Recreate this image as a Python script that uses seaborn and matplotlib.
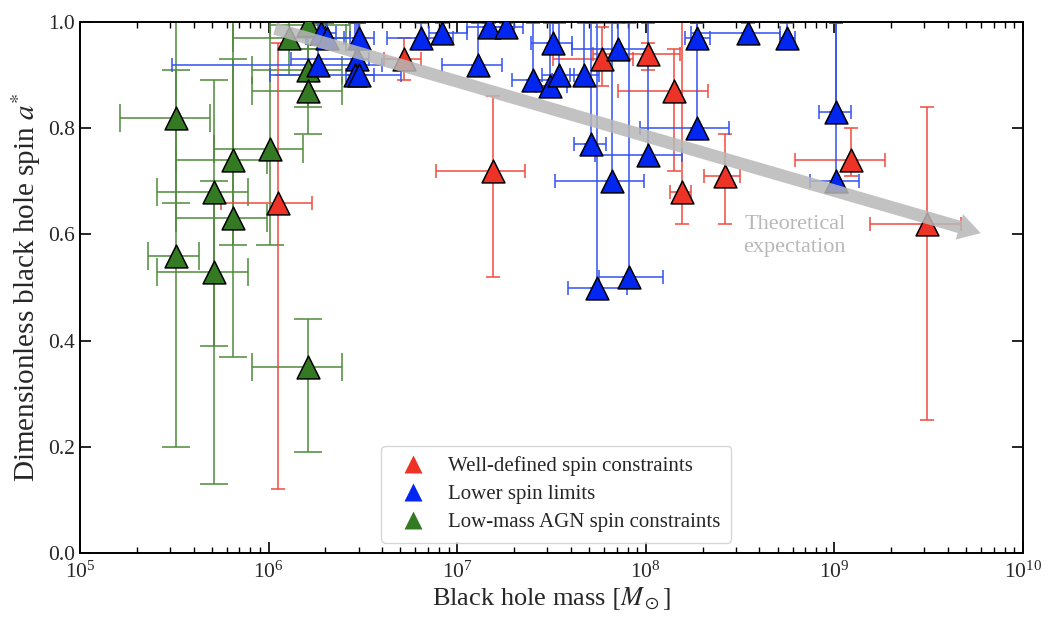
import numpy as np
import pandas as pd
import seaborn as sns
import matplotlib
matplotlib.use('Agg')
import matplotlib.pyplot as plt
from matplotlib.lines import Line2D

# ---- data (log10 mass, mass range, spin, spin range) ----
# well-defined spin constraints
red_logm = [6.05, 6.72, 7.19, 7.77, 8.01, 8.15, 8.19, 8.42, 9.09, 9.49]
red_logm_lo = [5.75, 6.61, 6.89, 7.51, 7.72, 7.85, 8.13, 8.31, 8.79, 9.19]
red_logm_hi = [6.23, 6.81, 7.36, 7.93, 8.18, 8.33, 8.24, 8.50, 9.27, 9.67]
red_spin = [0.66, 0.93, 0.72, 0.93, 0.94, 0.87, 0.68, 0.71, 0.74, 0.62]
red_spin_lo = [0.12, 0.89, 0.52, 0.88, 0.91, 0.72, 0.62, 0.62, 0.71, 0.25]
red_spin_hi = [0.96, 0.97, 0.86, 0.99, 0.96, 0.95, 1.00, 0.79, 0.80, 0.84]

# lower spin limits
blue_logm = [6.26, 6.28, 6.31, 6.48, 6.47, 6.46, 6.48, 6.81, 6.92, 7.11,
             7.17, 7.26, 7.51, 7.40, 7.49, 7.54, 7.67, 7.85, 8.27, 8.54,
             8.75, 9.01, 9.01, 8.27, 8.01, 7.71, 7.82, 7.74, 7.91]
blue_logm_lo = [5.49, 6.20, 6.20, 6.40, 6.12, 6.01, 6.41, 6.63, 6.85, 6.92,
                7.05, 7.17, 7.39, 7.29, 7.42, 7.45, 7.60, 7.61, 8.21, 8.24,
                8.71, 8.92, 8.87, 7.97, 7.73, 7.62, 7.52, 7.59, 7.75]
blue_logm_hi = [6.60, 6.36, 6.43, 6.56, 6.53, 6.56, 6.70, 6.98, 7.05, 7.24,
                7.30, 7.35, 7.61, 7.50, 7.58, 7.62, 7.75, 8.01, 8.34, 8.71,
                8.79, 9.09, 9.13, 8.44, 8.19, 7.79, 7.99, 7.90, 8.09]
blue_spin = [0.92, 0.98, 0.97, 0.97, 0.93, 0.90, 0.90, 0.97, 0.98, 0.92,
             0.99, 0.99, 0.96, 0.89, 0.88, 0.90, 0.90, 0.95, 0.97, 0.98,
             0.97, 0.83, 0.70, 0.80, 0.75, 0.77, 0.70, 0.50, 0.52]
blue_spin_hi = [0.998] * len(blue_spin)

# low-mass AGN spin constraints
green_logm = [5.51, 5.51, 5.71, 5.71, 5.81, 5.81, 6.01, 6.11, 6.21, 6.21, 6.21, 6.21]
green_logm_lo = [5.21, 5.36, 5.41, 5.41, 5.51, 5.51, 5.71, 5.81, 5.91, 5.91, 5.91, 6.01]
green_logm_hi = [5.69, 5.63, 5.89, 5.89, 5.99, 5.99, 6.18, 6.41, 6.39, 6.39, 6.39, 6.43]
green_spin = [0.82, 0.56, 0.68, 0.53, 0.74, 0.63, 0.76, 0.97, 0.91, 0.87, 0.35, 0.995]
green_spin_lo = [0.66, 0.20, 0.39, 0.13, 0.58, 0.37, 0.58, 0.90, 0.84, 0.79, 0.19, 0.95]
green_spin_hi = [1.00, 0.91, 0.89, 0.70, 1.00, 0.93, 1.00, 1.00, 1.00, 0.95, 0.44, 1.00]

labels = ['Well-defined spin constraints', 'Lower spin limits',
          'Low-mass AGN spin constraints']

# theoretical trend arrow (log10 mass, spin)
arrow_logm = [6.02, 9.79]
arrow_spin = [0.989, 0.601]

sns.set_style('ticks')
plt.rcParams['font.family'] = ['Liberation Serif', 'DejaVu Serif']
plt.rcParams['mathtext.fontset'] = 'stix'

red_c, blue_c, green_c = '#ec3325', '#0026f0', '#347a22'
red_e, blue_e, green_e = '#f04b3f', '#3352f2', '#4f8a3a'

fig = plt.figure(figsize=(10.61, 6.17), dpi=100)
ax = fig.add_axes([0.0754, 0.1037, 0.8888, 0.8606])


def draw_err(logm, lo, hi, spin, slo, shi, color, cap):
    m = 10 ** np.array(logm)
    mlo = 10 ** np.array(lo)
    mhi = 10 ** np.array(hi)
    s = np.array(spin)
    ax.errorbar(m, s, xerr=[m - mlo, mhi - m],
                yerr=[s - np.array(slo), np.array(shi) - s],
                fmt='none', ecolor=color, elinewidth=1.3, capsize=cap,
                capthick=1.3, alpha=0.85, zorder=2)


draw_err(green_logm, green_logm_lo, green_logm_hi, green_spin,
         green_spin_lo, green_spin_hi, green_e, 10)
draw_err(red_logm, red_logm_lo, red_logm_hi, red_spin,
         red_spin_lo, red_spin_hi, red_e, 5)
draw_err(blue_logm, blue_logm_lo, blue_logm_hi, blue_spin,
         blue_spin, blue_spin_hi, blue_e, 5)

df = pd.DataFrame({
    'mass': np.concatenate([10 ** np.array(red_logm), 10 ** np.array(blue_logm),
                            10 ** np.array(green_logm)]),
    'spin': red_spin + blue_spin + green_spin,
    'group': [labels[0]] * len(red_spin) + [labels[1]] * len(blue_spin)
             + [labels[2]] * len(green_spin),
})
palette = {labels[0]: red_c, labels[1]: blue_c, labels[2]: green_c}
for lab in [labels[2], labels[0], labels[1]]:
    sns.scatterplot(data=df[df['group'] == lab], x='mass', y='spin',
                    color=palette[lab], marker='^', s=270, edgecolor='black',
                    linewidth=1.1, ax=ax, legend=False, zorder=3)

# theoretical expectation arrow
ax.annotate('', xy=(10 ** arrow_logm[1], arrow_spin[1]),
            xytext=(10 ** arrow_logm[0], arrow_spin[0]),
            arrowprops=dict(arrowstyle='simple,head_width=1.9,head_length=1.6,tail_width=0.9',
                            color='#b8b8b8', alpha=0.85, lw=0),
            zorder=4)
ax.text(10 ** 8.79, 0.597, 'Theoretical\nexpectation', color='#b8b8b8',
        fontsize=16, ha='center', va='center', linespacing=1.3, zorder=4)

ax.set_xscale('log')
ax.set_xlim(1e5, 1e10)
ax.set_ylim(0, 1.0)
ax.set_yticks([0.0, 0.2, 0.4, 0.6, 0.8, 1.0])
ax.set_xlabel(r'Black hole mass $\left[M_\odot\right]$', fontsize=19, labelpad=2)
ax.set_ylabel(r'Dimensionless black hole spin $a^{*}$', fontsize=21, labelpad=4)
ax.tick_params(which='both', direction='in', top=True, right=True,
               labelsize=15.5, color='black')
ax.tick_params(which='major', length=8, width=1.2)
ax.tick_params(which='minor', length=4, width=1.0)
ax.tick_params(axis='x', which='major', pad=6)
for sp in ax.spines.values():
    sp.set_linewidth(1.4)
    sp.set_color('black')

handles = [Line2D([], [], marker='^', linestyle='none', markersize=13,
                  markerfacecolor=c, markeredgecolor='none')
           for c in [red_c, blue_c, green_c]]
ax.legend(handles, labels, loc='lower center', fontsize=15, frameon=True,
          handletextpad=0.7, borderpad=0.5, labelspacing=0.4,
          bbox_to_anchor=(0.505, 0.0))

fig.savefig('out.png', dpi=100)
